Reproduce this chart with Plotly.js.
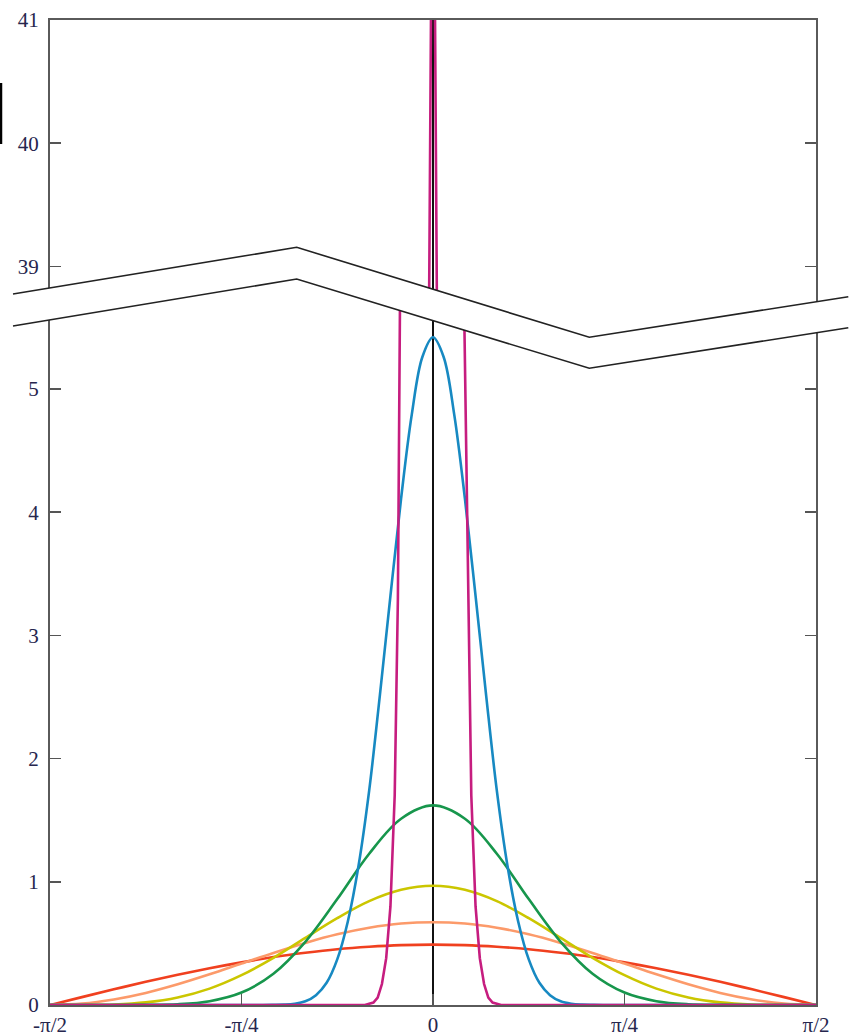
<!DOCTYPE html>
<html>
<head>
<meta charset="utf-8">
<script src="https://cdn.plot.ly/plotly-3.0.1.min.js"></script>
<style>
html,body{margin:0;padding:0;background:#ffffff;}
#chart{width:850px;height:1036px;}
</style>
</head>
<body>
<div id="chart"></div>
<script>
// ---------------- data (x in degrees, shown as fractions of pi) ----------------
const xBroad = [-90,-82.5,-75,-67.5,-60,-52.5,-45,-37.5,-30,-22.5,-15,-7.5,0,7.5,15,22.5,30,37.5,45,52.5,60,67.5,75,82.5,90];
const redY    = [0,0.064,0.127,0.188,0.245,0.298,0.346,0.389,0.424,0.453,0.473,0.486,0.490,0.486,0.473,0.453,0.424,0.389,0.346,0.298,0.245,0.188,0.127,0.064,0];
const salmonY = [0,0.011,0.045,0.098,0.168,0.249,0.336,0.423,0.504,0.574,0.627,0.661,0.672,0.661,0.627,0.574,0.504,0.423,0.336,0.249,0.168,0.098,0.045,0.011,0];
const yellowY = [0,0.0003,0.004,0.021,0.061,0.133,0.242,0.383,0.545,0.705,0.843,0.935,0.968,0.935,0.843,0.705,0.545,0.383,0.242,0.133,0.061,0.021,0.004,0.0003,0];
const greenY  = [0,0,0,0.001,0.006,0.031,0.101,0.254,0.513,0.860,1.228,1.512,1.620,1.512,1.228,0.860,0.513,0.254,0.101,0.031,0.006,0.001,0,0,0];

const xBlue = [-90,-40,-37.5,-35,-32.5,-30,-27.5,-25,-22.5,-20,-17.5,-15,-12.5,-10,-7.5,-5,-2.5,0,2.5,5,7.5,10,12.5,15,17.5,20,22.5,25,27.5,30,32.5,35,37.5,40,90];
const blueY = [0,0,0.001,0.003,0.01,0.03,0.08,0.18,0.37,0.68,1.13,1.74,2.51,3.32,4.11,4.79,5.26,5.42,5.26,4.79,4.11,3.32,2.51,1.74,1.13,0.68,0.37,0.18,0.08,0.03,0.01,0.003,0.001,0,0];

const xMagenta = [-90,-16,-14,-13,-12,-11,-10,-9,-8.25,-7.3,-0.9,0,0.9,7.3,8.25,9,10,11,12,13,14,16,90];
const magentaY = [0,0,0.02,0.06,0.17,0.38,0.80,1.7,3.3,5.7,38.8,43.5,38.8,5.7,3.3,1.7,0.80,0.38,0.17,0.06,0.02,0,0];

const xTickVals = [-90,-45,0,45,90];
const xTickText = ['-π/2','-π/4','0','π/4','π/2'];
const yTicksLow = [0,1,2,3,4,5];
const yTicksHigh = [39,40,41];

// ---------------- layout geometry ----------------
const W = 850, H = 1036;
const M = {l:50, r:34, t:20, b:31};
const plotW = W - M.l - M.r, plotH = H - M.t - M.b;
const PX_PER_UNIT = 123.2;           // same scale in both panels
const breakPx = 307;                  // page row where the panels meet (hidden by the band)
const split = (H - M.b - breakPx) / plotH;
const lowMax = (H - M.b - breakPx) / PX_PER_UNIT;
const highMax = 41;
const highMin = highMax - (breakPx - M.t) / PX_PER_UNIT;

const px = x => (x - M.l) / plotW;
const py = y => (H - M.b - y) / plotH;
const pt = (x, y) => px(x).toFixed(5) + ',' + py(y).toFixed(5);

// break band (decoration) in page pixels
const upper = [[13,294],[296.7,247.3],[589.3,337.3],[848.3,296.7]];
const lower = [[13,326],[296.7,279],[589.3,368.3],[848.3,327.7]];
const pathOpen = pts => 'M ' + pts.map(p => pt(p[0], p[1])).join(' L ');
const bandPath = 'M ' + upper.concat(lower.slice().reverse()).map(p => pt(p[0], p[1])).join(' L ') + ' Z';

const series = [
  {x: xBroad, y: redY, color: '#f0401f', shape: 'spline'},
  {x: xBroad, y: salmonY, color: '#fc9a6a', shape: 'spline'},
  {x: xBroad, y: yellowY, color: '#cbc600', shape: 'spline'},
  {x: xBroad, y: greenY, color: '#17964c', shape: 'spline'},
  {x: xBlue, y: blueY, color: '#1789c2', shape: 'spline'},
  {x: xMagenta, y: magentaY, color: '#c61d7f', shape: 'linear'}
];

const traces = [];
[['x','y'],['x2','y2']].forEach(([xa, ya]) => {
  series.forEach(s => {
    traces.push({
      type: 'scatter', mode: 'lines', x: s.x, y: s.y,
      xaxis: xa, yaxis: ya,
      line: {color: s.color, width: 2.6, shape: s.shape, smoothing: 1},
      hoverinfo: 'skip', showlegend: false
    });
  });
});

const tickFont = {family: '"Liberation Serif", "DejaVu Serif", serif', size: 21, color: '#26264e'};
const frame = {showline: true, linecolor: '#5a5a5a', linewidth: 2, showgrid: false};

const layout = {
  width: W, height: H,
  margin: M,
  paper_bgcolor: '#ffffff', plot_bgcolor: '#ffffff',
  showlegend: false,
  xaxis: Object.assign({}, frame, {
    domain: [0,1], anchor: 'y', range: [-90,90],
    tickmode: 'array', tickvals: xTickVals, ticktext: xTickText,
    ticks: 'inside', ticklen: 11, tickwidth: 1.5, tickcolor: '#555',
    mirror: false, zeroline: true, zerolinecolor: '#111', zerolinewidth: 1.2,
    tickfont: tickFont, ticklabelstandoff: 0
  }),
  xaxis2: Object.assign({}, frame, {
    domain: [0,1], anchor: 'y2', range: [-90,90], side: 'top',
    showticklabels: false, ticks: '', mirror: false,
    zeroline: true, zerolinecolor: '#111', zerolinewidth: 1.2
  }),
  yaxis: Object.assign({}, frame, {
    domain: [0, split], anchor: 'x', range: [0, lowMax],
    tickmode: 'array', tickvals: yTicksLow, ticktext: yTicksLow.map(String),
    ticks: 'inside', ticklen: 11, tickwidth: 1.5, tickcolor: '#555',
    mirror: 'ticks', zeroline: false, tickfont: tickFont, ticklabelstandoff: 5
  }),
  yaxis2: Object.assign({}, frame, {
    domain: [split, 1], anchor: 'x2', range: [highMin, highMax],
    tickmode: 'array', tickvals: yTicksHigh, ticktext: yTicksHigh.map(String),
    ticks: 'inside', ticklen: 11, tickwidth: 1.5, tickcolor: '#555',
    mirror: 'ticks', zeroline: false, tickfont: tickFont, ticklabelstandoff: 5
  }),
  shapes: [
    {type: 'path', xref: 'paper', yref: 'paper', layer: 'above', path: bandPath,
     fillcolor: '#ffffff', line: {width: 0}},
    {type: 'path', xref: 'paper', yref: 'paper', layer: 'above', path: pathOpen(upper),
     fillcolor: 'rgba(0,0,0,0)', line: {color: '#222', width: 1.6}},
    {type: 'path', xref: 'paper', yref: 'paper', layer: 'above', path: pathOpen(lower),
     fillcolor: 'rgba(0,0,0,0)', line: {color: '#222', width: 1.6}},
    {type: 'line', xref: 'paper', yref: 'paper', layer: 'above',
     x0: px(1), x1: px(1), y0: py(83), y1: py(144), line: {color: '#000', width: 2.5}}
  ]
};

Plotly.newPlot('chart', traces, layout, {staticPlot: true, displayModeBar: false});
</script>
</body>
</html>
